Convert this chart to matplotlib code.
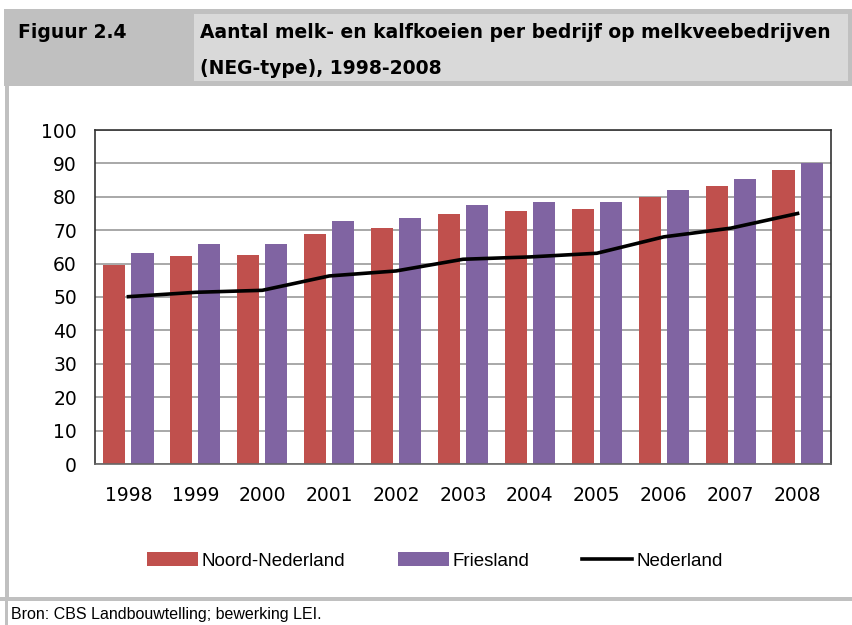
import numpy as np
import matplotlib.pyplot as plt
from matplotlib.patches import Rectangle
from matplotlib.lines import Line2D

# data
jaren = ['1998', '1999', '2000', '2001', '2002', '2003', '2004', '2005', '2006', '2007', '2008']
noord_nederland = [59.6, 62.3, 62.6, 68.9, 70.7, 74.9, 75.8, 76.4, 80.0, 83.3, 88.1]
friesland = [63.2, 65.9, 65.9, 72.8, 73.7, 77.6, 78.5, 78.5, 82.1, 85.4, 90.0]
nederland = [50.1, 51.4, 52.0, 56.3, 57.8, 61.3, 62.0, 63.1, 68.0, 70.6, 75.0]

rood = '#c0504d'
paars = '#8064a2'
smal = ['Liberation Sans', 'DejaVu Sans']

fig = plt.figure(figsize=(8.53, 6.25), dpi=100)
W, H = 853, 625

def px(x, y, w, h, **kw):
    # rechthoek in pixels (oorsprong linksboven)
    fig.patches.append(Rectangle((x / W, 1 - (y + h) / H), w / W, h / H,
                                 transform=fig.transFigure, **kw))

# kop
px(4, 9, 849, 77, facecolor='#c0c0c0', edgecolor='none')
px(194, 14, 654, 67, facecolor='#d9d9d9', edgecolor='none')
# randen van het kader
px(5, 86, 4, 514, facecolor='#c0c0c0', edgecolor='none')
px(0, 597, 853, 4, facecolor='#c0c0c0', edgecolor='none')
px(5, 601, 3, 24, facecolor='#c0c0c0', edgecolor='none')

fig.text(18 / W, 1 - 33 / H, 'Figuur 2.4', fontsize=13.5, fontweight='bold',
         va='center', ha='left')
fig.text(200 / W, 1 - 33 / H, 'Aantal melk- en kalfkoeien per bedrijf op melkveebedrijven',
         fontsize=13.5, fontweight='bold', va='center', ha='left')
fig.text(200 / W, 1 - 68 / H, '(NEG-type), 1998-2008',
         fontsize=13.5, fontweight='bold', va='center', ha='left')
fig.text(11 / W, 1 - 614 / H, 'Bron: CBS Landbouwtelling; bewerking LEI.',
         fontsize=11.5, family=smal, va='center', ha='left')

ax = fig.add_axes([95 / W, 1 - 464 / H, 736 / W, 334 / H])
x = np.arange(len(jaren))
ax.bar(x - 0.21, noord_nederland, width=0.33, color=rood, zorder=2)
ax.bar(x + 0.21, friesland, width=0.33, color=paars, zorder=2)
ax.plot(x, nederland, color='black', linewidth=2.6, zorder=3)

ax.set_xlim(-0.5, len(jaren) - 0.5)
ax.set_ylim(0, 100)
ax.set_yticks(np.arange(0, 101, 10))
ax.set_xticks(x)
ax.set_xticklabels(jaren)
ax.tick_params(length=0, labelsize=13.5, colors='black')
ax.tick_params(axis='y', pad=13)
ax.tick_params(axis='x', pad=16)
ax.yaxis.grid(True, color='#999999', linewidth=1.2, zorder=1)
ax.set_axisbelow(True)
for s in ax.spines.values():
    s.set_color('#333333')
    s.set_linewidth(1.2)
ax.spines['bottom'].set_color('#666666')

handles = [Rectangle((0, 0), 1, 1, facecolor=rood),
           Rectangle((0, 0), 1, 1, facecolor=paars),
           Line2D([0], [0], color='black', linewidth=2.6)]
fig.legend(handles, ['Noord-Nederland', 'Friesland', 'Nederland'],
           loc='center', bbox_to_anchor=(435 / W, 1 - 561 / H), ncol=3,
           frameon=False, prop={'family': smal, 'size': 13.5},
           handlelength=2.7, handleheight=0.7, handletextpad=0.2,
           columnspacing=2.8)

fig.savefig('out.png', dpi=100)
